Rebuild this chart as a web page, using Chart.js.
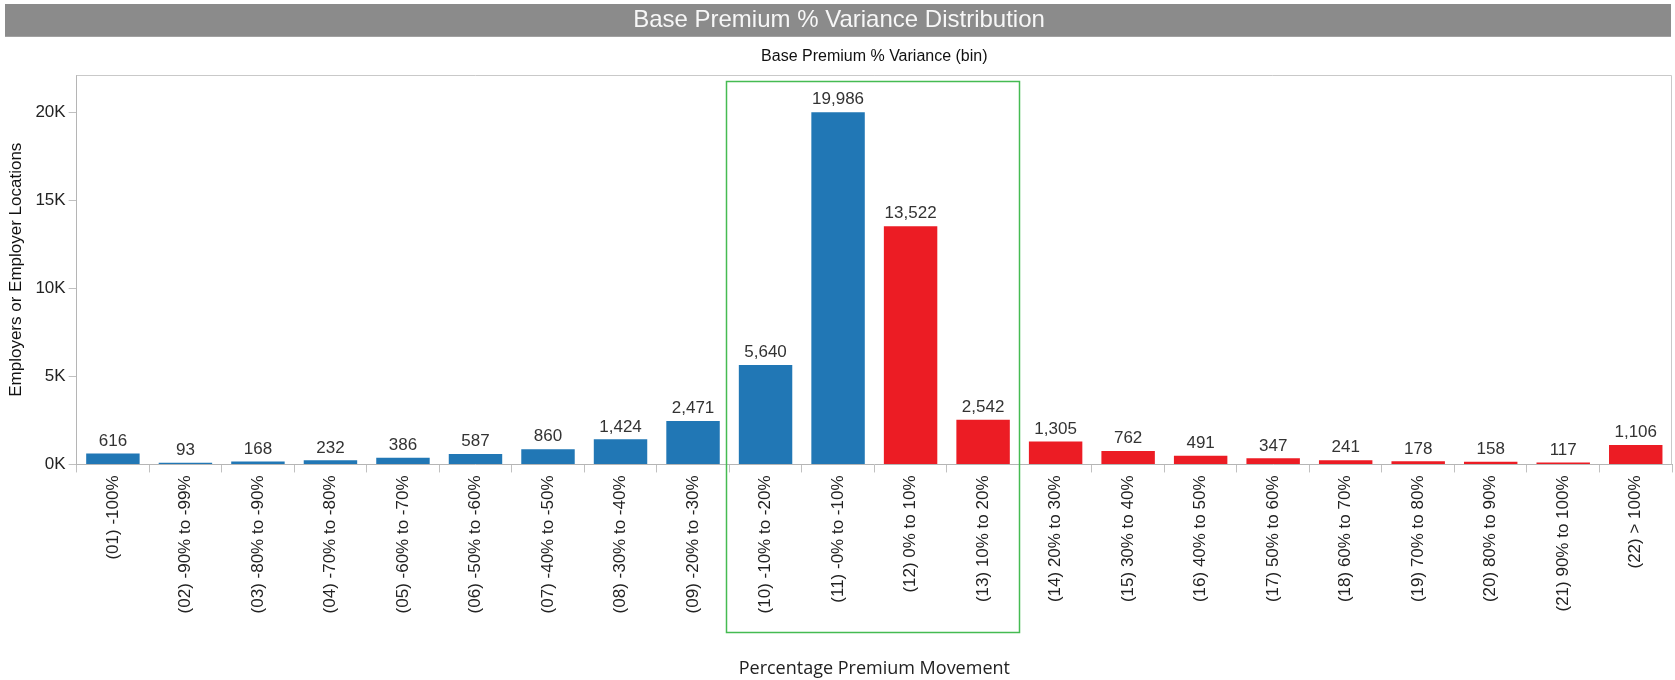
<!DOCTYPE html>
<html>
<head>
<meta charset="utf-8">
<script src="https://cdn.jsdelivr.net/npm/chart.js@4"></script>
<style>
html,body{margin:0;padding:0;background:#fff;}
#wrap{width:1675px;height:680px;position:relative;}
</style>
</head>
<body>
<div id="wrap"><canvas id="c" width="1675" height="680"></canvas></div>
<script>
const categories = [
  "(01) -100%", "(02) -90% to -99%", "(03) -80% to -90%", "(04) -70% to -80%",
  "(05) -60% to -70%", "(06) -50% to -60%", "(07) -40% to -50%", "(08) -30% to -40%",
  "(09) -20% to -30%", "(10) -10% to -20%", "(11) -0% to -10%", "(12) 0% to 10%",
  "(13) 10% to 20%", "(14) 20% to 30%", "(15) 30% to 40%", "(16) 40% to 50%",
  "(17) 50% to 60%", "(18) 60% to 70%", "(19) 70% to 80%", "(20) 80% to 90%",
  "(21) 90% to 100%", "(22) > 100%"
];
const counts = [616, 93, 168, 232, 386, 587, 860, 1424, 2471, 5640, 19986, 13522,
  2542, 1305, 762, 491, 347, 241, 178, 158, 117, 1106];
const decreaseBins = 11;            // first 11 bins are decreases (blue)
const highlightedBins = [9, 12];    // (10) .. (13) boxed in green
const yTicks = [0, 5000, 10000, 15000, 20000];

const BLUE = "#2177b5", RED = "#ec1c24";
const ARIAL = "'Liberation Sans', Arial, sans-serif";

const titleBand = {
  id: "titleBand",
  beforeDraw(chart) {
    const tb = chart.titleBlock;
    if (!tb) return;
    const ctx = chart.ctx;
    ctx.save();
    ctx.fillStyle = "#8b8b8b";
    ctx.fillRect(5, tb.top, chart.width - 9, tb.height);
    ctx.restore();
  }
};

const frame = {
  id: "frame",
  beforeDatasetsDraw(chart) {
    const a = chart.chartArea, ctx = chart.ctx;
    ctx.save();
    ctx.strokeStyle = "#c9c9c9";
    ctx.lineWidth = 1;
    ctx.beginPath();
    ctx.moveTo(a.left, a.top + 0.5);
    ctx.lineTo(a.right - 0.5, a.top + 0.5);
    ctx.lineTo(a.right - 0.5, a.bottom);
    ctx.stroke();
    ctx.restore();
  },
  afterDraw(chart) {
    const x = chart.scales.x, a = chart.chartArea, ctx = chart.ctx;
    const half = (x.getPixelForValue(1) - x.getPixelForValue(0)) / 2;
    const l = x.getPixelForValue(highlightedBins[0]) - half - 3;
    const r = x.getPixelForValue(highlightedBins[1]) + half;
    const t = a.top + 6;
    const b = chart.height - 48;
    ctx.save();
    ctx.strokeStyle = "#45bb52";
    ctx.lineWidth = 1.5;
    ctx.strokeRect(Math.round(l) + 0.5, Math.round(t) + 0.5, Math.round(r - l), Math.round(b - t));
    ctx.restore();
  }
};

const valueLabels = {
  id: "valueLabels",
  afterDatasetsDraw(chart) {
    const ctx = chart.ctx;
    const meta = chart.getDatasetMeta(0);
    ctx.save();
    ctx.font = "17px " + ARIAL;
    ctx.fillStyle = "#333";
    ctx.textAlign = "center";
    ctx.textBaseline = "bottom";
    meta.data.forEach((bar, i) => {
      ctx.fillText(counts[i].toLocaleString("en-US"), bar.x, bar.y - 4);
    });
    ctx.restore();
  }
};

new Chart(document.getElementById("c"), {
  type: "bar",
  data: {
    labels: categories,
    datasets: [{
      data: counts,
      xAxisID: "x",
      backgroundColor: counts.map((_, i) => i < decreaseBins ? BLUE : RED),
      borderWidth: 0,
      barPercentage: 0.737,
      categoryPercentage: 1.0
    }]
  },
  options: {
    responsive: false,
    animation: false,
    layout: { padding: { left: 6, right: 3, top: 4, bottom: 0 } },
    plugins: {
      legend: { display: false },
      tooltip: { enabled: false },
      title: {
        display: true,
        text: "Base Premium % Variance Distribution",
        color: "#f7f7f7",
        font: { family: ARIAL, size: 24, weight: "normal" },
        padding: { top: 2, bottom: 2 }
      }
    },
    scales: {
      xTop: {
        type: "category",
        position: "top",
        labels: categories,
        grid: { display: false },
        border: { display: false },
        ticks: { display: false },
        title: {
          display: true,
          text: "Base Premium % Variance (bin)",
          color: "#111",
          font: { family: ARIAL, size: 16 },
          padding: { top: 10, bottom: 1 }
        }
      },
      x: {
        offset: true,
        position: "bottom",
        border: { display: true, color: "#b5b5b5" },
        grid: { display: true, drawOnChartArea: false, drawTicks: true, tickLength: 8, color: "#c0c0c0", offset: true },
        ticks: {
          autoSkip: false, minRotation: 90, maxRotation: 90, padding: 3,
          color: "#222",
          font: { family: ARIAL, size: 17 }
        },
        title: {
          display: true,
          text: "Percentage Premium Movement",
          color: "#222",
          font: { family: "'Open Sans', sans-serif", size: 18 },
          padding: { top: 42, bottom: 0 }
        }
      },
      y: {
        min: 0,
        max: 22100,
        afterBuildTicks(scale) { scale.ticks = yTicks.map(v => ({ value: v })); },
        border: { display: true, color: "#b5b5b5" },
        grid: { display: true, drawOnChartArea: false, drawTicks: true, tickLength: 8, color: "#c0c0c0" },
        ticks: {
          padding: 3,
          color: "#222",
          font: { family: ARIAL, size: 17 },
          callback: v => (v / 1000) + "K"
        },
        title: {
          display: true,
          text: "Employers or Employer Locations",
          color: "#111",
          font: { family: ARIAL, size: 17 },
          padding: { top: 0, bottom: 6 }
        }
      }
    }
  },
  plugins: [titleBand, frame, valueLabels]
});
</script>
</body>
</html>
